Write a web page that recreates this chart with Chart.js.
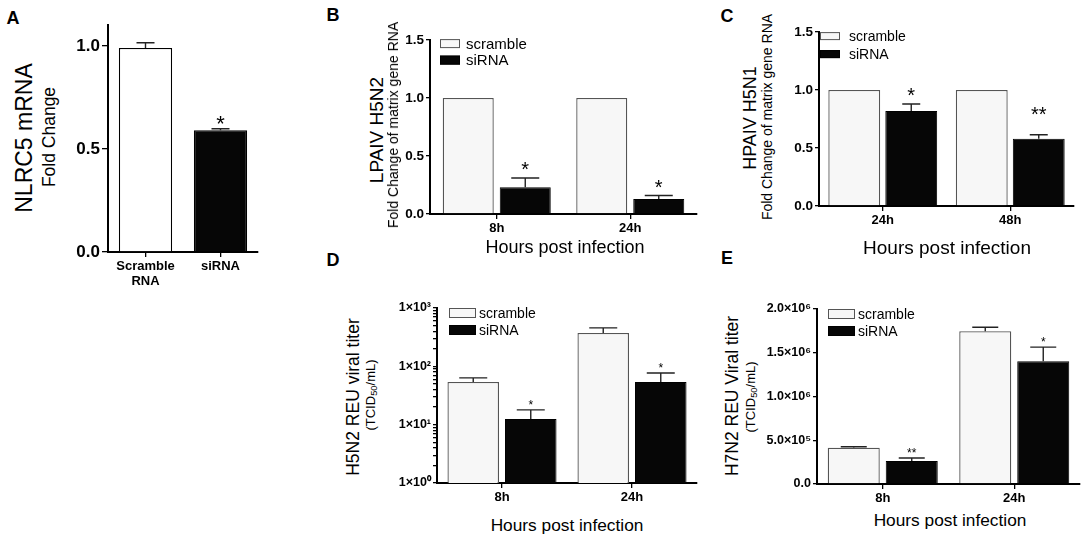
<!DOCTYPE html>
<html>
<head>
<meta charset="utf-8">
<script src="https://cdn.jsdelivr.net/npm/chart.js@4.4.1/dist/chart.umd.min.js"></script>
<style>
  html, body { margin: 0; padding: 0; background: #fff; }
  #fig { position: relative; width: 1084px; height: 536px; overflow: hidden; font-family: "Liberation Sans", Arial, sans-serif; color: #000; }
  #fig canvas { position: absolute; }
  .lbl { position: absolute; white-space: nowrap; line-height: 1; transform: translate(-50%, -50%); }
  .rot { transform: translate(-50%, -50%) rotate(-90deg); }
  .lbl sub { font-size: 72%; vertical-align: -0.2em; }
</style>
</head>
<body>
<div id="fig"></div>
<script>
// ---- values ----
const seriesNames = ["scramble", "siRNA"];

// A: NLRC5 knock-down
const aCategories = [["Scramble", "RNA"], "siRNA"];
const aFold = [0.99, 0.59];
const aFoldErr = [0.025, 0.008];
const aStars = ["", "*"];
const aTicks = [0, 0.5, 1.0];

// B: LPAIV H5N2 matrix gene
const bHours = ["8h", "24h"];
const bScramble = [1.0, 1.0];
const bSiRNA = [0.23, 0.13];
const bSiRNAErr = [0.08, 0.03];
const bStars = ["*", "*"];

// C: HPAIV H5N1 matrix gene
const cHours = ["24h", "48h"];
const cScramble = [1.0, 1.0];
const cSiRNA = [0.82, 0.58];
const cSiRNAErr = [0.06, 0.035];
const cStars = ["*", "**"];
const foldTicks = [0, 0.5, 1.0, 1.5];

// D: H5N2 titer (log axis)
const dHours = ["8h", "24h"];
const dScramble = [54, 374];
const dScrambleErr = [9.5, 82];
const dSiRNA = [12.5, 54];
const dSiRNAErr = [5.4, 23];
const dStars = ["*", "*"];
const dTicks = [1, 10, 100, 1000];
const dTickLabels = ["1×10⁰", "1×10¹", "1×10²", "1×10³"];

// E: H7N2 titer
const eHours = ["8h", "24h"];
const eScramble = [415000, 1747000];
const eScrambleErr = [10000, 45000];
const eSiRNA = [263000, 1404000];
const eSiRNAErr = [34000, 160000];
const eStars = ["**", "*"];
const eTicks = [0, 500000, 1000000, 1500000, 2000000];
const eTickLabels = ["0.0", "5.0×10⁵", "1.0×10⁶", "1.5×10⁶", "2.0×10⁶"];

const FONT = '"Liberation Sans", Arial, sans-serif';
Chart.defaults.font.family = FONT;
Chart.defaults.color = "#000";

const fig = document.getElementById("fig");

// upper whiskers only, like the original
const errorBars = {
  id: "errorBars",
  afterDatasetsDraw(chart, args, opts) {
    const ctx = chart.ctx;
    const y = chart.scales.y;
    ctx.save();
    ctx.strokeStyle = opts.color;
    ctx.lineWidth = opts.width;
    chart.data.datasets.forEach((ds, i) => {
      chart.getDatasetMeta(i).data.forEach((bar, j) => {
        const err = ds.err ? ds.err[j] : 0;
        if (!err) return;
        const top = y.getPixelForValue(ds.data[j] + err);
        ctx.beginPath();
        ctx.moveTo(bar.x, bar.y);
        ctx.lineTo(bar.x, top);
        ctx.moveTo(bar.x - opts.cap / 2, top);
        ctx.lineTo(bar.x + opts.cap / 2, top);
        ctx.stroke();
      });
    });
    ctx.restore();
  }
};

// significance stars above the whiskers
const stars = {
  id: "stars",
  afterDatasetsDraw(chart, args, opts) {
    const ctx = chart.ctx;
    const y = chart.scales.y;
    ctx.save();
    ctx.fillStyle = "#000";
    ctx.textAlign = "center";
    ctx.textBaseline = "alphabetic";
    ctx.font = opts.size + "px " + FONT;
    chart.data.datasets.forEach((ds, i) => {
      if (!ds.stars) return;
      chart.getDatasetMeta(i).data.forEach((bar, j) => {
        if (!ds.stars[j]) return;
        const err = ds.err ? ds.err[j] : 0;
        const top = y.getPixelForValue(ds.data[j] + err);
        const lift = Array.isArray(opts.lift) ? opts.lift[j] : opts.lift;
        ctx.fillText(ds.stars[j], bar.x, top - lift + 0.57 * opts.size);
      });
    });
    ctx.restore();
  }
};

// legend drawn inside the plot, top left
const boxLegend = {
  id: "boxLegend",
  afterDraw(chart, args, opts) {
    const ctx = chart.ctx;
    const area = chart.chartArea;
    ctx.save();
    ctx.font = opts.size + "px " + FONT;
    ctx.textBaseline = "middle";
    chart.data.datasets.forEach((ds, i) => {
      const x = area.left + opts.x;
      const y = area.top + opts.y + i * opts.step;
      ctx.fillStyle = ds.backgroundColor;
      ctx.fillRect(x, y, opts.boxW, opts.boxH);
      ctx.strokeStyle = ds.borderColor;
      ctx.lineWidth = 1;
      ctx.strokeRect(x + 0.5, y + 0.5, opts.boxW - 1, opts.boxH - 1);
      ctx.fillStyle = "#000";
      ctx.fillText(ds.label, x + opts.boxW + opts.gap, y + opts.boxH / 2 + 1);
    });
    ctx.restore();
  }
};

function addText(html, x, y, size, bold, rotate) {
  const d = document.createElement("div");
  d.className = "lbl" + (rotate ? " rot" : "");
  d.innerHTML = html;
  d.style.left = x + "px";
  d.style.top = y + "px";
  d.style.fontSize = size + "px";
  if (bold) d.style.fontWeight = "bold";
  fig.appendChild(d);
}

function pairDatasets(scr, scrErr, si, siErr, siStars, p) {
  return [
    { label: seriesNames[0], data: scr, err: scrErr,
      backgroundColor: "#f7f7f7", borderColor: "#555", borderWidth: 1.3,
      barPercentage: p.barPct, categoryPercentage: p.catPct },
    { label: seriesNames[1], data: si, err: siErr, stars: siStars,
      backgroundColor: "#060606", borderColor: "#000", borderWidth: 1,
      barPercentage: p.barPct, categoryPercentage: p.catPct }
  ];
}

function panel(p) {
  const canvas = document.createElement("canvas");
  const left = p.area.l - p.yw;
  const top = p.area.t - p.padTop;
  const w = p.area.r + p.padRight - left;
  const h = p.area.b + p.xh - top;
  canvas.width = w;
  canvas.height = h;
  Object.assign(canvas.style, { left: left + "px", top: top + "px", width: w + "px", height: h + "px" });
  fig.appendChild(canvas);

  const yScale = Object.assign({
    grid: { drawOnChartArea: false, tickLength: p.yTick, color: "#000", lineWidth: 1.3 },
    border: { color: "#000", width: p.axisW },
    ticks: { autoSkip: false, padding: 2, font: { size: p.yFont, weight: "bold" }, callback: p.yLabel },
    afterBuildTicks: p.yTicks,
    afterFit: s => { s.width = p.yw; }
  }, p.y);

  return new Chart(canvas, {
    type: "bar",
    data: { labels: p.labels, datasets: p.datasets },
    options: {
      responsive: false,
      animation: false,
      events: [],
      layout: { padding: { top: p.padTop, right: p.padRight, left: 0, bottom: 0 } },
      scales: {
        x: {
          offset: true,
          grid: { drawOnChartArea: false, offset: false, tickLength: p.xTick, color: "#000", lineWidth: 1.3 },
          border: { color: "#000", width: p.axisW },
          ticks: { autoSkip: false, maxRotation: 0, padding: 2, font: { size: p.xFont, weight: "bold", lineHeight: 1.15 } },
          afterFit: s => { s.height = p.xh; }
        },
        y: yScale
      },
      plugins: {
        legend: { display: false },
        tooltip: { enabled: false },
        errorBars: { color: "#222", width: 1.4, cap: p.cap },
        stars: p.stars,
        boxLegend: p.legend || false
      }
    },
    plugins: p.legend ? [errorBars, stars, boxLegend] : [errorBars, stars]
  });
}

const fixedTicks = list => s => { s.ticks = list.map(v => ({ value: v })); };
const oneDecimal = v => v.toFixed(1);

// ---- A ----
panel({
  area: { l: 108, t: 25, r: 258, b: 252 }, yw: 40, xh: 42, padTop: 12, padRight: 6,
  axisW: 2, xTick: 5, yTick: 6, yFont: 17, xFont: 13, cap: 18,
  labels: aCategories,
  datasets: [{ data: aFold, err: aFoldErr, stars: aStars,
    backgroundColor: ["#ffffff", "#060606"], borderColor: ["#000", "#000"], borderWidth: 1.3,
    barPercentage: 0.71, categoryPercentage: 1 }],
  y: { min: 0, max: 1.1 }, yTicks: fixedTicks(aTicks), yLabel: oneDecimal,
  stars: { size: 22, lift: 10 }
});

// ---- B ----
const bLayout = { barPct: 0.895, catPct: 0.854 };
panel({
  area: { l: 430, t: 40, r: 697, b: 214 }, yw: 40, xh: 26, padTop: 10, padRight: 6,
  axisW: 2, xTick: 5, yTick: 4, yFont: 13.5, xFont: 13, cap: 28,
  labels: bHours,
  datasets: pairDatasets(bScramble, null, bSiRNA, bSiRNAErr, bStars, bLayout),
  y: { min: 0, max: 1.5 }, yTicks: fixedTicks(foldTicks), yLabel: oneDecimal,
  stars: { size: 20, lift: 13 },
  legend: { x: 10, y: -1, boxW: 20, boxH: 9, step: 16.5, size: 15, gap: 6 }
});

// ---- C ----
const cLayout = { barPct: 0.91, catPct: 0.894 };
panel({
  area: { l: 819, t: 32, r: 1074, b: 206 }, yw: 40, xh: 26, padTop: 10, padRight: 8,
  axisW: 2, xTick: 5, yTick: 4, yFont: 13.5, xFont: 13, cap: 18,
  labels: cHours,
  datasets: pairDatasets(cScramble, null, cSiRNA, cSiRNAErr, cStars, cLayout),
  y: { min: 0, max: 1.5 }, yTicks: fixedTicks(foldTicks), yLabel: oneDecimal,
  stars: { size: 20, lift: [13, 25] },
  legend: { x: 1, y: 0, boxW: 20, boxH: 8, step: 18, size: 14, gap: 9 }
});

// ---- D (log10 axis, minor ticks 2..9 per decade) ----
const dLayout = { barPct: 0.896, catPct: 0.885 };
panel({
  area: { l: 437, t: 308, r: 697, b: 483 }, yw: 50, xh: 26, padTop: 10, padRight: 6,
  axisW: 2, xTick: 5, yTick: 4, yFont: 12.5, xFont: 13, cap: 28,
  labels: dHours,
  datasets: pairDatasets(dScramble, dScrambleErr, dSiRNA, dSiRNAErr, dStars, dLayout),
  y: { type: "logarithmic", min: dTicks[0], max: dTicks[dTicks.length - 1] },
  yTicks: s => {
    const t = [];
    dTicks.forEach((d, i) => {
      t.push({ value: d, major: true });
      if (i < dTicks.length - 1) for (let k = 2; k < 10; k++) t.push({ value: d * k });
    });
    s.ticks = t;
  },
  yLabel: v => { const i = dTicks.indexOf(v); return i >= 0 ? dTickLabels[i] : ""; },
  stars: { size: 12, lift: 8 },
  legend: { x: 12, y: 0, boxW: 27, boxH: 10, step: 17, size: 14, gap: 3 }
});

// ---- E ----
const eLayout = { barPct: 0.897, catPct: 0.882 };
panel({
  area: { l: 817, t: 309, r: 1080, b: 484 }, yw: 52, xh: 26, padTop: 10, padRight: 4,
  axisW: 2, xTick: 5, yTick: 4, yFont: 12.5, xFont: 13, cap: 26,
  labels: eHours,
  datasets: pairDatasets(eScramble, eScrambleErr, eSiRNA, eSiRNAErr, eStars, eLayout),
  y: { min: eTicks[0], max: eTicks[eTicks.length - 1] }, yTicks: fixedTicks(eTicks),
  yLabel: v => eTickLabels[eTicks.indexOf(v)],
  stars: { size: 12, lift: 8 },
  legend: { x: 11, y: 0, boxW: 27, boxH: 10, step: 17, size: 14, gap: 3 }
});

// ---- panel letters and axis titles ----
addText("A", 13, 18, 18, true);
addText("B", 333, 15, 18, true);
addText("C", 727, 16, 18, true);
addText("D", 333, 260, 18, true);
addText("E", 727, 258, 18, true);

addText("NLRC5 mRNA", 24, 138, 23, false, true);
addText("Fold Change", 50, 137, 17.5, false, true);

addText("LPAIV H5N2", 376, 130, 19, false, true);
addText("Fold Change of matrix gene RNA", 393, 125, 14, false, true);
addText("Hours post infection", 565, 247, 18);

addText("HPAIV H5N1", 750, 118, 18, false, true);
addText("Fold Change of matrix gene RNA", 767, 117, 14, false, true);
addText("Hours post infection", 947, 247, 19);

addText("H5N2 REU viral titer", 354, 397, 17.5, false, true);
addText("(TCID<sub>50</sub>/mL)", 372, 395, 13, false, true);
addText("Hours post infection", 567, 526, 17.3);

addText("H7N2 REU Viral titer", 733, 396, 17.5, false, true);
addText("(TCID<sub>50</sub>/mL)", 752, 397, 13, false, true);
addText("Hours post infection", 950, 521, 17.3);
</script>
</body>
</html>
